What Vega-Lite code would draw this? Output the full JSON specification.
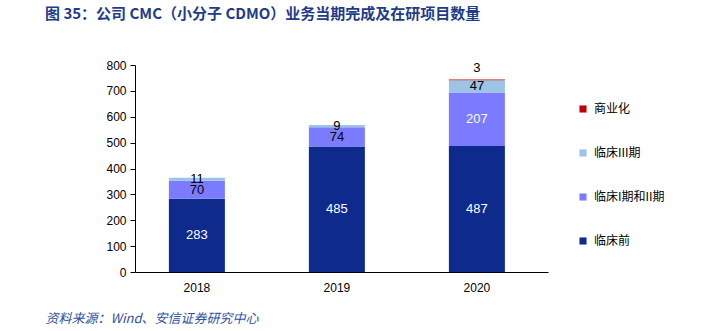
{
  "$schema": "https://vega.github.io/schema/vega-lite/v6.json",
  "width": 413,
  "height": 207,
  "autosize": {"type": "none"},
  "padding": {"left": 135, "top": 65, "right": 166, "bottom": 59},
  "background": "white",
  "config": {
    "view": {"stroke": null},
    "font": "Liberation Sans"
  },
  "title": {
    "text": "图 35：公司 CMC（小分子 CDMO）业务当期完成及在研项目数量",
    "anchor": "start",
    "frame": "group",
    "dx": -90,
    "offset": 37,
    "font": "Noto Sans CJK SC",
    "fontSize": 15,
    "fontWeight": "bold",
    "color": "#1F3C88"
  },
  "data": {
    "values": [
      {"year": "2018", "cat": "临床前", "value": 283, "ord": 1},
      {"year": "2018", "cat": "临床I期和II期", "value": 70, "ord": 2},
      {"year": "2018", "cat": "临床III期", "value": 11, "ord": 3},
      {"year": "2019", "cat": "临床前", "value": 485, "ord": 1},
      {"year": "2019", "cat": "临床I期和II期", "value": 74, "ord": 2},
      {"year": "2019", "cat": "临床III期", "value": 9, "ord": 3},
      {"year": "2020", "cat": "临床前", "value": 487, "ord": 1},
      {"year": "2020", "cat": "临床I期和II期", "value": 207, "ord": 2},
      {"year": "2020", "cat": "临床III期", "value": 47, "ord": 3},
      {"year": "2020", "cat": "商业化", "value": 3, "ord": 4}
    ]
  },
  "transform": [
    {"stack": "value", "groupby": ["year"], "sort": [{"field": "ord", "order": "ascending"}], "as": ["v0", "v1"]},
    {"calculate": "(datum.v0 + datum.v1) / 2", "as": "mid"}
  ],
  "encoding": {
    "x": {
      "field": "year",
      "type": "nominal",
      "scale": {"paddingInner": 0.6, "paddingOuter": 0.275, "align": 0.44},
      "axis": {
        "labelAngle": 0,
        "labelFontSize": 12,
        "labelColor": "#000000",
        "labelPadding": 10,
        "ticks": false,
        "domainColor": "#000000",
        "title": "资料来源：Wind、安信证券研究中心",
        "titleFont": "Noto Sans CJK SC",
        "titleFontSize": 13,
        "titleFontStyle": "italic",
        "titleFontWeight": "normal",
        "titleColor": "#2F4F9F",
        "titleAnchor": "start",
        "titleAlign": "left",
        "titleBaseline": "middle",
        "titleX": -90,
        "titleY": 46
      }
    }
  },
  "layer": [
    {
      "mark": {"type": "bar"},
      "encoding": {
        "y": {
          "field": "v0",
          "type": "quantitative",
          "scale": {"domain": [0, 800]},
          "axis": {
            "values": [0, 100, 200, 300, 400, 500, 600, 700, 800],
            "labelOverlap": false,
            "title": null,
            "grid": false,
            "labelFontSize": 12,
            "labelColor": "#000000",
            "domainColor": "#000000",
            "tickColor": "#000000",
            "tickSize": 5,
            "labelPadding": 4
          }
        },
        "y2": {"field": "v1"},
        "color": {
          "field": "cat",
          "type": "nominal",
          "scale": {
            "domain": ["商业化", "临床III期", "临床I期和II期", "临床前"],
            "range": ["#C00000", "#9DC3E6", "#7B7BFF", "#0D2A8C"]
          },
          "legend": {
            "title": null,
            "orient": "none",
            "legendX": 442,
            "legendY": 38,
            "symbolType": "square",
            "symbolSize": 50,
            "symbolStrokeWidth": 0,
            "labelFont": "Noto Sans CJK SC",
            "labelFontSize": 12,
            "labelColor": "#000000",
            "rowPadding": 32,
            "labelOffset": 5
          }
        }
      }
    },
    {
      "transform": [{"filter": "datum.cat != '商业化'"}],
      "mark": {"type": "text", "fontSize": 13, "baseline": "middle"},
      "encoding": {
        "y": {
          "field": "mid",
          "type": "quantitative",
          "axis": {
            "values": [0, 100, 200, 300, 400, 500, 600, 700, 800],
            "labelOverlap": false,
            "title": null,
            "grid": false,
            "labelFontSize": 12,
            "labelColor": "#000000",
            "domainColor": "#000000",
            "tickColor": "#000000",
            "tickSize": 5,
            "labelPadding": 4
          }
        },
        "text": {"field": "value", "type": "quantitative"},
        "color": {
          "condition": {"test": "datum.value > 150", "value": "#FFFFFF"},
          "value": "#000000"
        }
      }
    },
    {
      "transform": [{"filter": "datum.cat == '商业化'"}],
      "mark": {"type": "text", "fontSize": 13, "baseline": "bottom", "dy": -4, "color": "#000000"},
      "encoding": {
        "y": {
          "field": "v1",
          "type": "quantitative",
          "axis": {
            "values": [0, 100, 200, 300, 400, 500, 600, 700, 800],
            "labelOverlap": false,
            "title": null,
            "grid": false,
            "labelFontSize": 12,
            "labelColor": "#000000",
            "domainColor": "#000000",
            "tickColor": "#000000",
            "tickSize": 5,
            "labelPadding": 4
          }
        },
        "text": {"field": "value", "type": "quantitative"}
      }
    }
  ]
}
